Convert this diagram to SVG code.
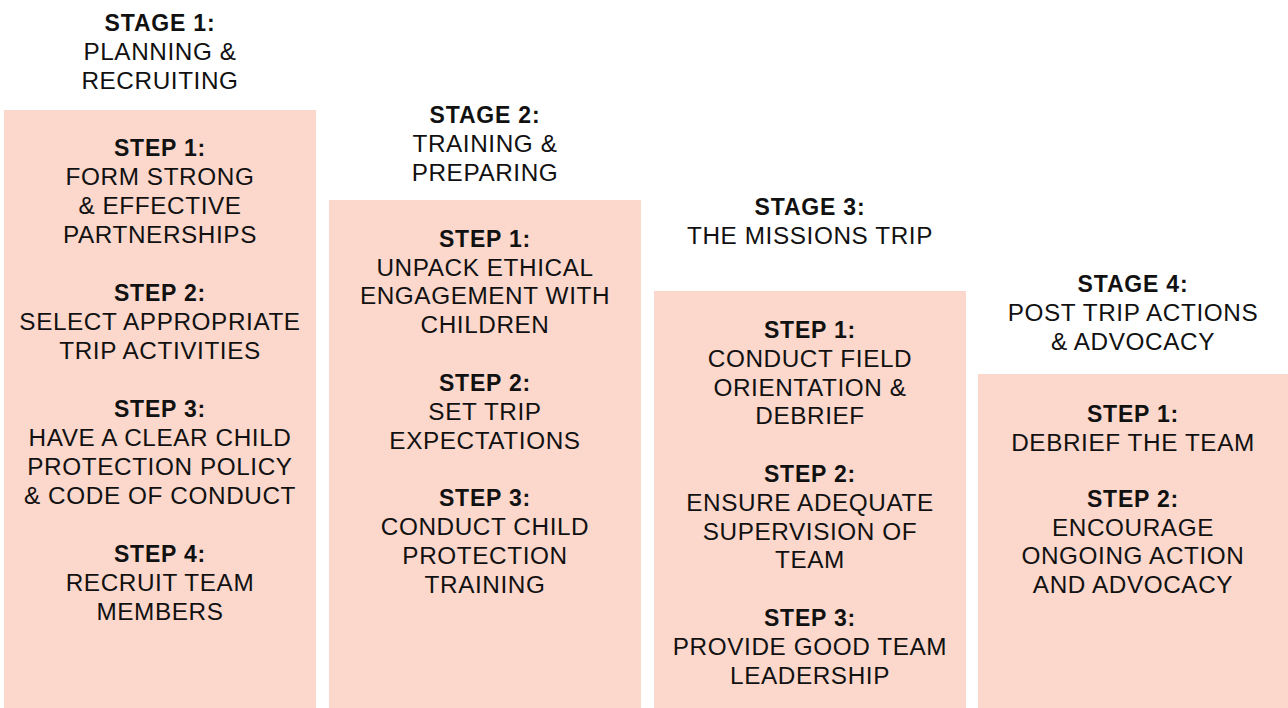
<svg xmlns="http://www.w3.org/2000/svg" width="1288" height="708" viewBox="0 0 1288 708">
<style>
.box{fill:#FBD7CC}
text{font-family:"Liberation Sans",Arial,sans-serif;fill:#111;text-anchor:middle}
.h{font-weight:bold;font-size:23px;letter-spacing:0.8px}
.t{font-size:24.3px;letter-spacing:0.6px}
</style>
<rect width="1288" height="708" fill="#fff"/>
<g id="stage1">
<text x="160" class="h" y="31">STAGE 1:</text>
<text x="160" class="t" y="60">PLANNING &amp;</text>
<text x="160" class="t" y="88.5">RECRUITING</text>
<rect class="box" x="4" y="110" width="312" height="598"/>
<text x="160" class="h" y="156">STEP 1:</text>
<text x="160" class="t" y="185">FORM STRONG</text>
<text x="160" class="t" y="214">&amp; EFFECTIVE</text>
<text x="160" class="t" y="242.5">PARTNERSHIPS</text>
<text x="160" class="h" y="301">STEP 2:</text>
<text x="160" class="t" y="330">SELECT APPROPRIATE</text>
<text x="160" class="t" y="358.5">TRIP ACTIVITIES</text>
<text x="160" class="h" y="417">STEP 3:</text>
<text x="160" class="t" y="446">HAVE A CLEAR CHILD</text>
<text x="160" class="t" y="475">PROTECTION POLICY</text>
<text x="160" class="t" y="504">&amp; CODE OF CONDUCT</text>
<text x="160" class="h" y="562">STEP 4:</text>
<text x="160" class="t" y="591">RECRUIT TEAM</text>
<text x="160" class="t" y="620">MEMBERS</text>
</g>
<g id="stage2">
<text x="485" class="h" y="123">STAGE 2:</text>
<text x="485" class="t" y="152">TRAINING &amp;</text>
<text x="485" class="t" y="181">PREPARING</text>
<rect class="box" x="329" y="200" width="312" height="508"/>
<text x="485" class="h" y="247">STEP 1:</text>
<text x="485" class="t" y="275.5">UNPACK ETHICAL</text>
<text x="485" class="t" y="304">ENGAGEMENT WITH</text>
<text x="485" class="t" y="333">CHILDREN</text>
<text x="485" class="h" y="391">STEP 2:</text>
<text x="485" class="t" y="420">SET TRIP</text>
<text x="485" class="t" y="449">EXPECTATIONS</text>
<text x="485" class="h" y="506">STEP 3:</text>
<text x="485" class="t" y="535">CONDUCT CHILD</text>
<text x="485" class="t" y="564">PROTECTION</text>
<text x="485" class="t" y="593">TRAINING</text>
</g>
<g id="stage3">
<text x="810" class="h" y="215">STAGE 3:</text>
<text x="810" class="t" y="244">THE MISSIONS TRIP</text>
<rect class="box" x="654" y="291" width="312" height="417"/>
<text x="810" class="h" y="338">STEP 1:</text>
<text x="810" class="t" y="367">CONDUCT FIELD</text>
<text x="810" class="t" y="395.5">ORIENTATION &amp;</text>
<text x="810" class="t" y="424">DEBRIEF</text>
<text x="810" class="h" y="482">STEP 2:</text>
<text x="810" class="t" y="511">ENSURE ADEQUATE</text>
<text x="810" class="t" y="540">SUPERVISION OF</text>
<text x="810" class="t" y="568">TEAM</text>
<text x="810" class="h" y="626">STEP 3:</text>
<text x="810" class="t" y="655">PROVIDE GOOD TEAM</text>
<text x="810" class="t" y="683.5">LEADERSHIP</text>
</g>
<g id="stage4">
<text x="1133" class="h" y="292">STAGE 4:</text>
<text x="1133" class="t" y="321">POST TRIP ACTIONS</text>
<text x="1133" class="t" y="350">&amp; ADVOCACY</text>
<rect class="box" x="978" y="374" width="310" height="334"/>
<text x="1133" class="h" y="422">STEP 1:</text>
<text x="1133" class="t" y="450.5">DEBRIEF THE TEAM</text>
<text x="1133" class="h" y="507">STEP 2:</text>
<text x="1133" class="t" y="535.5">ENCOURAGE</text>
<text x="1133" class="t" y="564">ONGOING ACTION</text>
<text x="1133" class="t" y="593">AND ADVOCACY</text>
</g>
<g id="connectors"/>
</svg>
